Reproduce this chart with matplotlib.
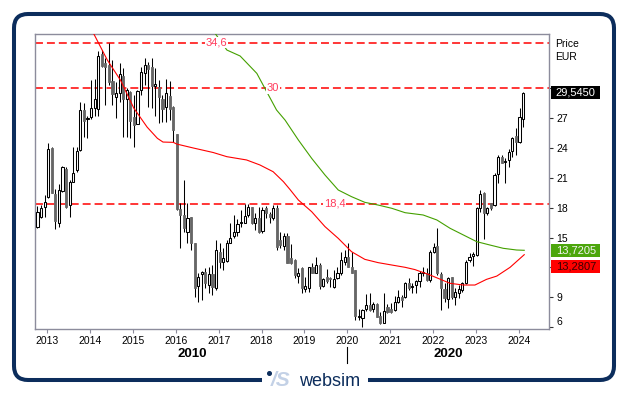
import numpy as np
import pandas as pd
import matplotlib
matplotlib.use("Agg")
import matplotlib.pyplot as plt
import matplotlib.transforms as mtransforms
from matplotlib.patches import FancyBboxPatch, Rectangle

plt.rcParams['font.family'] = ['Liberation Sans', 'DejaVu Sans']

# monthly candles, Oct 2012 .. Feb 2024
months = pd.date_range("2012-10-01", "2024-02-01", freq="MS")

opens = [16.1, 17.1, 18.04, 19.11, 23.97, 19.38, 16.5, 19.71, 21.86, 18.27,
         20.62, 21.79, 23.8, 27.82, 26.88, 27.08, 27.99, 27.89, 33.45, 32.51,
         32.34, 30.73, 29.16, 29.49, 31.24, 28.89, 29.66, 27.08, 26.38, 29.83,
         31.57, 32.34, 32.11, 30.2, 30.16, 28.89, 28.15, 29.23, 28.09, 25.41,
         17.84, 17.27, 15.59, 17.03, 14.42, 10.13, 11.34, 11.57, 10.23, 11.34,
         9.9, 13.58, 12.58, 12.68, 14.49, 15.16, 15.56, 16.43, 16.5, 17.27,
         18.04, 16.5, 16.93, 15.69, 17.94, 17.37, 16.93, 17.94, 14.75, 14.15,
         15.16, 12.9, 12.74, 11.14, 11.91, 9.8, 9.9, 12.07, 11.47, 12.24,
         10.13, 11.0, 10.9, 10.06, 10.9, 11.4, 12.58, 13.08, 12.07, 11.74,
         7.05, 6.88, 7.79, 8.22, 7.79, 8.32, 7.12, 6.45, 8.06, 7.79,
         7.72, 8.56, 9.06, 9.06, 10.47, 9.99, 10.23, 10.67, 11.4, 11.47,
         10.74, 13.58, 14.15, 11.34, 9.8, 8.79, 11.0, 9.06, 9.39, 9.73,
         10.47, 12.74, 13.15, 13.25, 17.94, 19.51, 17.44, 18.44, 18.27, 21.39,
         23.13, 22.63, 22.8, 23.73, 25.21, 24.64, 26.88]
highs = [18.2, 18.27, 19.28, 24.47, 24.13, 19.88, 20.38, 22.19, 22.06, 20.78,
         24.13, 24.13, 28.66, 28.56, 27.22, 30.83, 30.9, 33.78, 33.85, 33.01,
         34.59, 32.85, 30.67, 32.51, 32.01, 30.0, 29.73, 29.33, 29.83, 32.17,
         33.01, 32.68, 33.01, 32.0, 30.83, 29.33, 30.9, 30.77, 28.22, 25.41,
         18.44, 20.78, 18.44, 17.1, 14.42, 11.4, 11.67, 11.91, 12.01, 12.24,
         14.75, 14.42, 13.92, 14.75, 16.43, 17.27, 16.83, 17.77, 18.37, 18.37,
         18.1, 17.5, 18.1, 18.1, 18.17, 17.6, 18.27, 18.27, 15.59, 15.42,
         15.42, 14.35, 12.81, 11.91, 12.01, 11.0, 12.07, 12.41, 13.08, 12.48,
         10.9, 11.81, 11.07, 11.74, 12.01, 13.58, 13.75, 14.42, 13.58, 11.74,
         7.79, 7.79, 9.33, 9.39, 8.56, 8.39, 7.55, 9.39, 8.32, 8.39,
         9.13, 9.73, 9.23, 10.57, 10.9, 10.4, 10.74, 11.67, 12.07, 11.91,
         13.75, 14.42, 15.93, 11.57, 10.4, 11.07, 11.07, 9.9, 10.23, 10.57,
         12.74, 13.48, 13.58, 18.04, 19.78, 19.61, 18.1, 18.5, 21.52, 23.3,
         23.3, 22.96, 23.87, 25.14, 25.98, 27.99, 29.63]
lows = [16.0, 16.93, 17.03, 18.94, 19.44, 15.83, 16.03, 19.61, 17.94, 17.03,
        20.62, 21.62, 23.73, 25.07, 24.97, 26.88, 27.22, 27.22, 32.11, 28.32,
        30.33, 28.32, 26.98, 28.66, 25.14, 25.14, 24.97, 24.13, 26.38, 29.33,
        30.33, 28.15, 27.99, 27.2, 26.55, 26.65, 26.65, 26.81, 24.64, 17.77,
        13.92, 15.59, 14.42, 13.75, 9.06, 8.56, 8.72, 9.9, 9.39, 9.23,
        9.73, 11.91, 11.74, 12.58, 14.42, 14.92, 15.16, 16.09, 16.43, 17.1,
        16.36, 15.76, 15.49, 15.49, 16.93, 16.43, 16.76, 13.75, 13.92, 13.75,
        12.41, 12.34, 10.9, 10.4, 9.46, 9.56, 9.56, 11.4, 11.4, 9.8,
        10.06, 10.4, 10.06, 9.9, 10.8, 11.24, 12.24, 12.01, 11.4, 6.71,
        6.71, 6.04, 7.65, 7.65, 7.55, 6.98, 6.31, 6.38, 7.38, 7.45,
        7.65, 8.39, 7.99, 8.89, 9.73, 9.39, 9.39, 10.06, 11.14, 10.67,
        10.57, 13.48, 11.24, 7.72, 8.56, 7.89, 8.79, 8.22, 8.89, 9.56,
        10.33, 12.58, 12.14, 13.15, 17.6, 14.82, 17.27, 17.77, 18.17, 20.45,
        22.46, 20.45, 22.12, 23.06, 23.3, 24.47, 26.15]
closes = [17.6, 17.94, 18.54, 23.87, 19.51, 16.7, 19.78, 22.06, 18.1, 20.55,
          21.45, 23.7, 27.82, 26.75, 27.05, 28.05, 28.89, 33.25, 32.24, 32.11,
          30.67, 29.39, 29.49, 31.4, 28.89, 29.83, 26.75, 26.31, 29.76, 31.67,
          32.34, 31.91, 30.23, 30.4, 29.16, 27.89, 29.56, 27.89, 25.81, 17.84,
          17.27, 15.93, 16.93, 14.42, 9.9, 11.0, 11.54, 10.4, 11.3, 10.06,
          13.75, 12.58, 12.91, 14.42, 14.92, 15.59, 16.36, 16.6, 17.17, 18.1,
          16.43, 16.93, 15.59, 17.77, 17.44, 17.03, 17.94, 14.08, 14.25, 15.16,
          12.41, 12.41, 11.24, 11.47, 9.9, 10.13, 12.01, 11.47, 12.24, 10.13,
          10.8, 10.67, 10.8, 10.8, 11.4, 12.74, 13.01, 12.07, 11.47, 7.12,
          7.12, 7.72, 8.22, 7.72, 8.32, 7.05, 6.38, 7.65, 7.55, 7.55,
          8.56, 9.06, 8.72, 10.47, 9.9, 10.13, 10.67, 11.4, 11.57, 10.74,
          13.58, 14.02, 11.4, 9.9, 8.89, 10.9, 9.06, 9.56, 9.8, 10.47,
          12.58, 13.01, 13.35, 17.94, 19.38, 17.44, 17.94, 17.94, 21.29, 23.13,
          22.53, 22.73, 23.63, 24.97, 24.64, 27.15, 29.545]

# moving averages (decimal year, value)
ma_red_t = [2014.07, 2014.40, 2014.71, 2015.02, 2015.33, 2015.57, 2015.70, 2015.94,
            2016.02, 2016.41, 2016.87, 2017.19, 2017.65, 2017.96, 2018.27, 2018.51,
            2018.66, 2018.86, 2019.17, 2019.48, 2019.79, 2020.10, 2020.41, 2020.72,
            2021.04, 2021.35, 2021.58, 2021.93, 2022.40, 2022.71, 2022.98, 2023.25,
            2023.49, 2023.80, 2024.13]
ma_red = [35.6, 32.85, 30.8, 28.0, 26.1, 24.97, 24.6, 24.57,
          24.4, 24.0, 23.55, 23.13, 22.8, 22.3, 21.62, 20.62,
          19.85, 18.77, 17.6, 16.1, 14.92, 13.58, 12.81, 12.48,
          12.24, 12.01, 11.78, 11.24, 10.4, 10.23, 10.23, 10.8,
          11.13, 12.01, 13.28]
ma_green_t = [2016.92, 2017.19, 2017.50, 2017.89, 2018.12, 2018.35, 2018.55, 2018.86,
              2019.17, 2019.48, 2019.79, 2020.10, 2020.41, 2020.72, 2021.04, 2021.35,
              2021.77, 2022.09, 2022.40, 2022.71, 2023.02, 2023.33, 2023.64, 2023.95,
              2024.13]
ma_green = [35.5, 33.85, 33.25, 31.5, 29.66, 27.82, 26.8, 24.8,
            22.96, 21.29, 19.78, 19.11, 18.54, 18.27, 17.94, 17.5,
            17.27, 16.77, 15.93, 15.26, 14.59, 14.25, 13.92, 13.75,
            13.72]

levels = [34.6, 30, 18.4]
level_labels = ["34,6", "30", "18,4"]
years = list(range(2013, 2025))
price_ticks = list(range(6, 31, 3))
last_price = 29.545
last_red = 13.2807
last_green = 13.7205

W, H = 629, 395
fig = plt.figure(figsize=(W / 100, H / 100), dpi=100)

# frame with logo, drawn in pixel units
bg = fig.add_axes([0, 0, 1, 1], zorder=-1)
bg.set_xlim(0, W)
bg.set_ylim(H, 0)
bg.axis('off')
navy = '#0c2d5c'
bg.add_patch(FancyBboxPatch((14, 14), 600, 366, boxstyle="round,pad=0,rounding_size=14",
                            fc='none', ec=navy, lw=2.9))
bg.add_patch(Rectangle((262, 374), 106, 12, fc='white', ec='none', zorder=3))
bg.plot([269], [372.5], 'o', ms=2.6, color=navy, zorder=4)
bg.text(271, 381, "/S", fontsize=15, fontstyle='italic', fontweight='bold',
        color='#c3d1e6', va='center', ha='left', zorder=4)
bg.text(299, 381, "websim", fontsize=13, color=navy, va='center', ha='left', zorder=4)

ax = fig.add_axes([35 / W, 1 - 328.7 / H, 514.3 / W, 294.4 / H])
ax.set_xlim(2012.713, 2024.715)
ax.set_ylim(5.84, 35.43)

x = np.array(months.year + (months.month - 1) / 12 + 1 / 48)
o = np.array(opens)
c = np.array(closes)
up = c >= o

ax.vlines(x, lows, highs, color='black', lw=0.75, zorder=2)
ax.bar(x[up], np.maximum((c - o)[up], 0.05), bottom=o[up], width=0.05,
       color='white', edgecolor='black', lw=0.75, zorder=3)
ax.bar(x[~up], (o - c)[~up], bottom=c[~up], width=0.05,
       color='#666666', edgecolor='#666666', lw=0.6, zorder=3)

ax.plot(ma_red_t, ma_red, color='#ff0000', lw=0.8, zorder=4)
ax.plot(ma_green_t, ma_green, color='#44a000', lw=0.8, zorder=4)

for lv in levels:
    ax.axhline(lv, color='#ff0000', lw=1.1, dashes=(5.2, 2.6), zorder=1)
for lx, lv, lab in zip([2016.94, 2018.27, 2019.71], levels, level_labels):
    ax.text(lx, lv, lab, color='#ff3b5c', fontsize=8, ha='center', va='center',
            zorder=5, bbox=dict(boxstyle='square,pad=0.05', fc='white', ec='none'))

# axes styling
for sp in ax.spines.values():
    sp.set_color('#8c8c9c')
    sp.set_linewidth(1)
ax.set_xticks(years)
ax.set_xticklabels([str(y) for y in years])
ax.tick_params(axis='x', length=3, pad=2, labelsize=7.5, color='#8c8c9c')
ax.yaxis.tick_right()
ax.set_yticks(price_ticks)
# 12 and 30 sit behind the value boxes, as in the original
ax.set_yticklabels(['' if t in (12, 30) else str(t) for t in price_ticks])
ax.tick_params(axis='y', length=3, pad=2, labelsize=7.5, color='#333333')
ax.yaxis.get_major_ticks()[0].label2.set_verticalalignment('bottom')

# value boxes at the right edge
tr = mtransforms.blended_transform_factory(ax.transAxes, ax.transData)
bw, bh = 49 / 514.3, 13 / 9.95
boxes = [(last_price, "29,5450", 'black', 'white'),
         (last_green, "13,7205", '#4ca60c', '#f4f4f4'),
         (min(last_red, last_green - 1.66), "13,2807", '#ff0000', '#3a0000')]
for yv, txt, fc, tc in boxes:
    ax.add_patch(Rectangle((1.004, yv - bh / 2), bw, bh, transform=tr, fc=fc, ec='none',
                           clip_on=False, zorder=6))
    ax.text(1.004 + bw / 2, yv, txt, transform=tr, color=tc, fontsize=8, ha='center',
            va='center', zorder=7, clip_on=False)

fig.text(555 / W, 1 - 44 / H, "Price", fontsize=7.5, va='center')
fig.text(555 / W, 1 - 57 / H, "EUR", fontsize=7.5, va='center')

fig.text(192 / W, 1 - 354 / H, "2010", fontsize=9.5, fontweight='bold', ha='center', va='center')
fig.text(448 / W, 1 - 354 / H, "2020", fontsize=9.5, fontweight='bold', ha='center', va='center')
sep = mtransforms.blended_transform_factory(ax.transData, ax.transAxes)
ax.plot([2020, 2020], [-0.062, -0.1165], transform=sep, color='black', lw=0.8, clip_on=False)

fig.savefig("out.png", dpi=100)
